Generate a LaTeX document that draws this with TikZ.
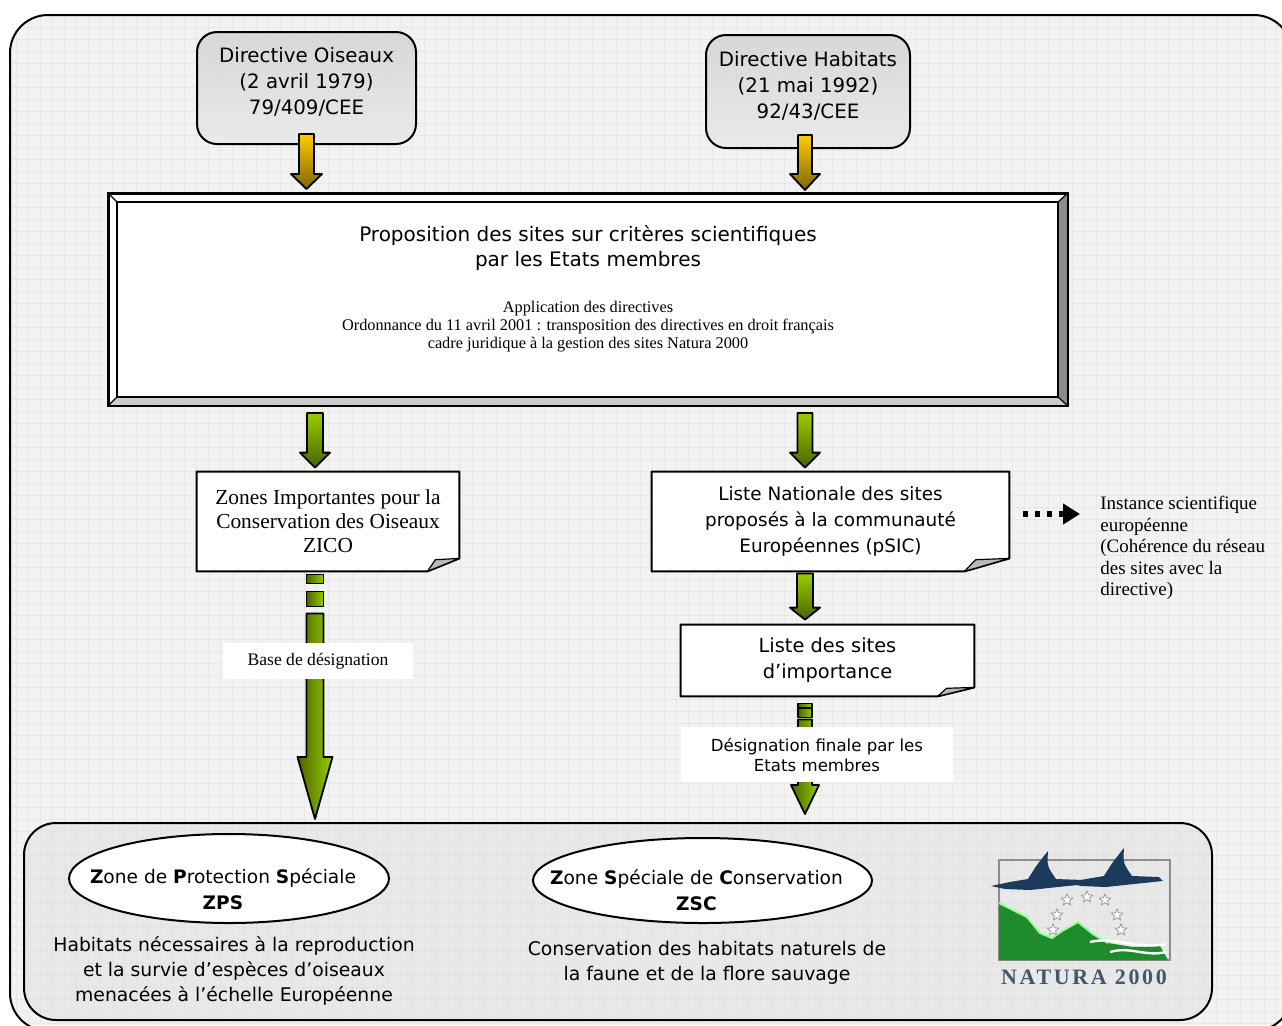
\documentclass[tikz,border=0pt]{standalone}
\usepackage{fontspec}
\setmainfont{Liberation Serif}
\setsansfont{DejaVu Sans}
\newfontfamily\logofont[LetterSpace=12]{Liberation Serif}
\usetikzlibrary{calc,positioning,shapes.geometric,arrows.meta}

\pgfdeclarelayer{back}
\pgfdeclarelayer{mid}
\pgfsetlayers{back,mid,main}

\definecolor{framebg}{HTML}{F2F2F2}
\definecolor{yellowtop}{HTML}{FFCC00}
\definecolor{yellowbot}{HTML}{7F6500}
\definecolor{greentop}{HTML}{99CC00}
\definecolor{greenbot}{HTML}{4A6400}
\definecolor{navy}{HTML}{1B3A5C}
\definecolor{logogreen}{HTML}{1E8C2A}

\tikzset{
  directive/.style={draw, line width=1pt, rounded corners=10pt, top color=black!18,
    bottom color=black!9, fill opacity=0.8, text opacity=1, align=center, inner sep=0pt,
    text depth=7pt, font=\sffamily\fontsize{9.9}{13}\selectfont},
  propbox/.style={draw, line width=1pt, fill=white, minimum width=479pt, minimum height=105.5pt},
  docnode/.style={align=center, inner sep=0pt},
  tag/.style={fill=white, align=center, inner sep=0pt},
  zone/.style={ellipse, draw, line width=1pt, fill=white, inner sep=0pt},
  zonename/.style={align=center, font=\sffamily\fontsize{9.3}{13}\selectfont},
  zonetxt/.style={align=center, font=\sffamily\fontsize{9.4}{12.7}\selectfont},
  panel/.style={draw, line width=1pt, rounded corners=16pt, fill=black!12, fill opacity=0.55,
    minimum width=594pt, minimum height=98.5pt},
  yarrow/.style={draw, line width=0.9pt, line join=round, top color=yellowtop, bottom color=yellowbot},
  garrow/.style={draw, line width=0.9pt, line join=round, top color=greentop, bottom color=greenbot},
  gside/.style={draw, line width=0.9pt, line join=round, left color=greenbot, right color=greentop},
  dotarrow/.style={line width=3pt, dash pattern=on 2.5pt off 3.5pt, -{Triangle[length=8.5pt,width=10pt]}},
  gridline/.style={black!9, line width=0.3pt}
}

% block arrow going down: [style]{start}{tip}{shaft half}{head half}{head length}
\newcommand\blockarrow[6][]{%
  \path[#1] let \p1=(#2), \p2=(#3) in
    (\x1-#4,\y1) -- (\x1+#4,\y1) -- (\x1+#4,\y2+#6) -- (\x1+#5,\y2+#6)
    -- (\x1,\y2) -- (\x1-#5,\y2+#6) -- (\x1-#4,\y2+#6) -- cycle;}

% sheet with a folded corner: {node}{fold width}{fold height}
\newcommand\docfold[3]{%
  \begin{pgfonlayer}{mid}
    \fill[white] (#1.north west) -- (#1.north east) -- ($(#1.south east)+(0,-#3)$)
      -- ($(#1.south east)+(-#2,0)$) -- (#1.south west) -- cycle;
  \end{pgfonlayer}
  \draw[line width=1pt, line join=round] (#1.north west) -- (#1.north east) -- ($(#1.south east)+(0,-#3)$)
    -- ($(#1.south east)+(-#2,0)$) -- (#1.south west) -- cycle;
  \filldraw[fill=black!28, line width=0.6pt, line join=round] ($(#1.south east)+(-#2,0)$)
    -- ($(#1.south east)+(-0.75*#2,-0.9*#3)$) -- ($(#1.south east)+(0,-#3)$) -- cycle;}

\begin{document}
\begin{tikzpicture}[x=0.5pt,y=-0.5pt]
  \useasboundingbox (0,0) rectangle (1282,1025);

  \begin{pgfonlayer}{back}
    \fill[white] (0,0) rectangle (1282,1025);
    \begin{scope}
      \clip[rounded corners=19pt] (10,15) rectangle (1292,1031);
      \fill[framebg] (0,0) rectangle (1282,1025);
      \foreach \i in {0,12,...,1284} \draw[gridline] (\i+4,0) -- (\i+4,1025);
      \foreach \j in {0,12,...,1020} \draw[gridline] (0,\j+3) -- (1282,\j+3);
    \end{scope}
    \draw[line width=1pt, rounded corners=19pt] (10,15) rectangle (1292,1031);
    \node[panel] (panel) at (618,921.5) {};
  \end{pgfonlayer}

  \coordinate (lcol) at (315,0);
  \coordinate (rcol) at (805,0);

  % directives
  \node[directive, minimum width=109.5pt, minimum height=56pt] (oiseaux) at (306.5,88)
    {Directive Oiseaux\\(2 avril 1979)\\79/409/CEE};
  \node[directive, minimum width=102pt, minimum height=56.5pt] (habitats) at (808,91.5)
    {Directive Habitats\\(21 mai 1992)\\92/43/CEE};

  % proposition
  \node[propbox] (prop) at (588,299.5) {};
  \fill[black!45] (prop.north east) -- ($(prop.north east)+(-10,9)$) -- ($(prop.south east)+(-10,-9)$) -- (prop.south east) -- cycle;
  \fill[black!20] (prop.south west) -- ($(prop.south west)+(9,-9)$) -- ($(prop.south east)+(-10,-9)$) -- (prop.south east) -- cycle;
  \draw[line width=1pt] ($(prop.north west)+(9,9)$) rectangle ($(prop.south east)+(-10,-9)$);
  \draw[line width=0.6pt] (prop.north west) -- ++(9,9) (prop.north east) -- ++(-10,9)
    (prop.south west) -- ++(9,-9) (prop.south east) -- ++(-10,-9);
  \draw[line width=1pt] (prop.north west) rectangle (prop.south east);
  \node[align=center, font=\sffamily\fontsize{10}{12.5}\selectfont] (proptitle) at (588,248)
    {Proposition des sites sur critères scientifiques\\par les Etats membres};
  \node[align=center, font=\rmfamily\fontsize{8.15}{9}\selectfont] (propnote) at (588,327)
    {Application des directives\\Ordonnance du 11 avril 2001 : transposition des directives en droit français\\cadre juridique à la gestion des sites Natura 2000};

  % lists
  \node[docnode, minimum width=131pt, minimum height=49.5pt, font=\rmfamily\fontsize{10.7}{12}\selectfont] (zico) at (328,521.5)
    {Zones Importantes pour la\\Conservation des Oiseaux\\ZICO};
  \docfold{zico}{32}{13}
  \node[docnode, minimum width=178.5pt, minimum height=49.5pt, font=\sffamily\fontsize{9.2}{12.8}\selectfont] (pnsic) at (830.5,521.5)
    {Liste Nationale des sites\\proposés à la communauté\\Européennes (pSIC)};
  \docfold{pnsic}{45}{13}
  \node[docnode, minimum width=146.5pt, minimum height=35.5pt, font=\sffamily\fontsize{9.7}{13}\selectfont] (sites) at (827.5,660.5)
    {Liste des sites\\d’importance};
  \docfold{sites}{37}{9}

  \node[anchor=north west, align=left, inner sep=0pt, font=\rmfamily\fontsize{9.5}{10.75}\selectfont] (instance) at (1100,496)
    {Instance scientifique\\européenne\\(Cohérence du réseau\\des sites avec la\\directive)};
  \draw[dotarrow] ($(pnsic.east)+(14,-7.5)$) -- ($(instance.north west)+(-20,18)$);

  % zones
  \node[zone, minimum width=160pt, minimum height=44.5pt] (zps) at (229,878.5) {};
  \node[zonename] (zpsname) at ($(zps)+(-6,11)$)
    {\textbf{Z}one de \textbf{P}rotection \textbf{S}péciale\\\textbf{ZPS}};
  \node[zonetxt] (zpsdesc) at (234,971)
    {Habitats nécessaires à la reproduction\\et la survie d’espèces d’oiseaux\\menacées à l’échelle Européenne};
  \node[zone, minimum width=169.5pt, minimum height=42.5pt] (zsc) at (702.5,880.5) {};
  \node[zonename] (zscname) at ($(zsc)+(-6,10)$)
    {\textbf{Z}one \textbf{S}péciale de \textbf{C}onservation\\\textbf{ZSC}};
  \node[zonetxt] (zscdesc) at (707,963)
    {Conservation des habitats naturels de\\la faune et de la flore sauvage};

  % arrows
  \blockarrow[yarrow]{$(oiseaux.south)+(0,-11)$}{$(prop.north)+(0,-4)$}{3.75pt}{7.75pt}{7.5pt}
  \blockarrow[yarrow]{$(habitats.south -| rcol)+(0,-14)$}{$(prop.north -| rcol)+(0,-3)$}{3.5pt}{7.5pt}{8pt}
  \blockarrow[garrow]{$(prop.south -| lcol)+(0,7)$}{$(zico.north -| lcol)+(0,-4)$}{4pt}{7.5pt}{7.5pt}
  \blockarrow[garrow]{$(prop.south -| rcol)+(0,7)$}{$(pnsic.north -| rcol)+(0,-4)$}{3.75pt}{7.5pt}{7.5pt}
  \blockarrow[garrow]{$(pnsic.south -| rcol)+(0,2)$}{$(sites.north -| rcol)+(0,-5)$}{4pt}{7.5pt}{6pt}

  \foreach \a/\b in {3/12,20/35}
    \path[gside] ($(zico.south -| lcol)+(-8.5,\a)$) rectangle ($(zico.south -| lcol)+(8.5,\b)$);
  \blockarrow[gside]{$(zico.south -| lcol)+(0,42)$}{$(panel.north -| lcol)+(0,-3)$}{4.25pt}{8.75pt}{31pt}
  \foreach \a/\b in {7/11,12/21}
    \path[gside] ($(sites.south -| rcol)+(-7,\a)$) rectangle ($(sites.south -| rcol)+(7,\b)$);
  \blockarrow[gside]{$(sites.south -| rcol)+(0,23)$}{$(panel.north -| rcol)+(0,-8)$}{3.5pt}{7pt}{14.5pt}

  % labels on the arrows
  \node[tag, minimum width=95pt, minimum height=18pt, font=\rmfamily\fontsize{8.8}{10}\selectfont] (base) at (318,661)
    {Base de désignation};
  \node[tag, minimum width=136pt, minimum height=27.5pt, font=\sffamily\fontsize{8.3}{10}\selectfont] (desig) at (817,754.5)
    {Désignation finale par les\\Etats membres};

  % Natura 2000 logo
  \draw[black!45, line width=0.8pt] (999,860) rectangle (1170,960);
  \fill[logogreen] (999,903) -- (1027,917) -- (1040,933) -- (1052,938) -- (1062,931) -- (1078,922)
    -- (1093,934) -- (1108,943) -- (1133,947) -- (1160,946) -- (1168,960) -- (999,960) -- cycle;
  \draw[green!40!white, line width=1pt] (999,903) -- (1027,917) -- (1040,933) -- (1052,938) -- (1062,931) -- (1078,922) -- (1093,934) -- (1108,943);
  \draw[white, line width=1.2pt] (1090,942) .. controls (1115,936) and (1135,950) .. (1166,944);
  \draw[white, line width=1.2pt] (1110,952) .. controls (1130,946) and (1145,957) .. (1166,952);
  \foreach \sx/\sy [count=\k] in {1067/900,1087/897,1105/900,1117/915,1121/930,1057/915,1053/930}
    \node[star, star points=5, star point ratio=2.2, draw=black!40, fill=white, line width=0.4pt,
      minimum size=6pt, inner sep=0pt] (star\k) at (\sx,\sy) {};
  \foreach \bx/\by in {0/0,76/-3}
    \fill[navy, shift={(\bx,\by)}] (991,886) -- (1010,882) -- (1028,879) .. controls (1036,866) .. (1048,851)
      .. controls (1047,866) .. (1056,879) -- (1083,880) -- (1087,884) -- (1058,887) -- (1030,890) -- (1005,889) -- cycle;
  \node[font=\logofont\bfseries\fontsize{11}{11}\selectfont, text=navy!60!gray] (naturatxt) at (1084,977) {NATURA 2000};
\end{tikzpicture}
\end{document}
